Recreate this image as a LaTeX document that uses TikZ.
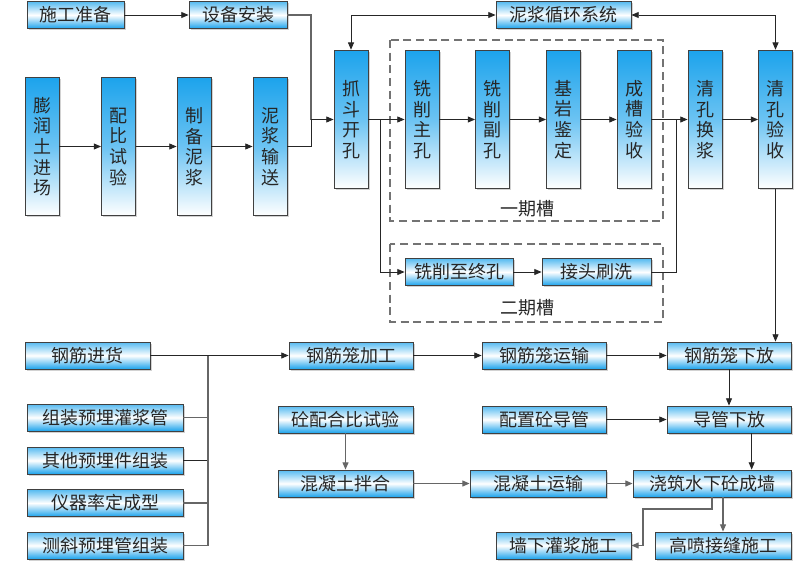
\documentclass[tikz,border=0pt]{standalone}
\usepackage{fontspec}
\newfontfamily\cjk{Noto Sans CJK SC}
\usetikzlibrary{arrows.meta,shadows}
\definecolor{boxblue}{RGB}{28,163,236}
\tikzset{
  hbox/.style={draw=black!75,line width=.6pt,top color=boxblue!75,bottom color=boxblue,middle color=white,
    minimum height=20.25pt,inner sep=0pt,text=black!85,font=\cjk\fontsize{13.5}{16}\selectfont,
    drop shadow={shadow xshift=1.2pt,shadow yshift=-1.2pt,opacity=.35}},
  vbox/.style={hbox,top color=boxblue,bottom color=white,middle color=boxblue!65,
    minimum width=25.5pt,minimum height=104pt,align=center,font=\cjk\fontsize{13.5}{15.5}\selectfont},
  line/.style={black!85,line width=.7pt},
  gline/.style={black!60,line width=.9pt},
  arr/.style={-{Triangle[length=5.5pt,width=4.5pt]}},
  arrtwo/.style={{Triangle[length=5.5pt,width=4.5pt]}-{Triangle[length=5.5pt,width=4.5pt]}},
  stage/.style={black!55,line width=.8pt,dash pattern=on 6pt off 3.5pt},
  stagelabel/.style={text=black!85,font=\cjk\fontsize{13.5}{16}\selectfont}
}
\begin{document}
\begin{tikzpicture}[x=0.75pt,y=-0.75pt]
\useasboundingbox (0,0) rectangle (800,568);
\fill[white] (0,0) rectangle (800,568);
\node[hbox,minimum width=72.75pt] (sgzb) at (75.5,15) {施工准备};
\node[hbox,minimum width=73.5pt] (sbaz) at (238,15) {设备安装};
\node[hbox,minimum width=101.25pt] (njxh) at (563.5,15) {泥浆循环系统};
\node[vbox] (prt) at (42,146.5) {膨\\润\\土\\进\\场};
\node[vbox] (pbsy) at (118.5,146.5) {配\\比\\试\\验};
\node[vbox] (zbnj) at (194,146.5) {制\\备\\泥\\浆};
\node[vbox] (njss) at (270,146.5) {泥\\浆\\输\\送};
\node[vbox] (zdkk) at (351,119.5) {抓\\斗\\开\\孔};
\node[vbox] (xxzk) at (422,119.5) {铣\\削\\主\\孔};
\node[vbox] (xxfk) at (492.5,119.5) {铣\\削\\副\\孔};
\node[vbox] (jyjd) at (563.5,119.5) {基\\岩\\鉴\\定};
\node[vbox] (ccys) at (634,119.5) {成\\槽\\验\\收};
\node[vbox] (qkhj) at (705,119.5) {清\\孔\\换\\浆};
\node[vbox] (qkys) at (775.5,119.5) {清\\孔\\验\\收};
\draw[stage] (390,40) rectangle (663,221);
\node[stagelabel] (yqc) at (527,209) {一期槽};
\draw[stage] (390,244) rectangle (663,322);
\node[stagelabel] (eqc) at (527,308) {二期槽};
\node[hbox,minimum width=81pt] (xxzz) at (459,272) {铣削至终孔};
\node[hbox,minimum width=81.75pt] (jtsx) at (596.5,272) {接头刷洗};
\node[hbox,minimum width=93.75pt] (gjjh) at (87.5,355.5) {钢筋进货};
\node[hbox,minimum width=117pt] (zzgj) at (105,417.5) {组装预埋灌浆管};
\node[hbox,minimum width=117pt] (qtyj) at (105,460.5) {其他预埋件组装};
\node[hbox,minimum width=117pt] (yqld) at (105,503) {仪器率定成型};
\node[hbox,minimum width=117pt] (cxyg) at (105,545.5) {测斜预埋管组装};
\node[hbox,minimum width=93pt] (gjljg) at (351,355.5) {钢筋笼加工};
\node[hbox,minimum width=93pt] (gjlys) at (544,355.5) {钢筋笼运输};
\node[hbox,minimum width=93pt] (gjlxf) at (729,355.5) {钢筋笼下放};
\node[hbox,minimum width=101.25pt] (tphb) at (345.5,419.5) {砼配合比试验};
\node[hbox,minimum width=93pt] (pzdg) at (544,419.5) {配置砼导管};
\node[hbox,minimum width=93pt] (dgxf) at (729,419.5) {导管下放};
\node[hbox,minimum width=101.25pt] (hnbh) at (345.5,483.5) {混凝土拌合};
\node[hbox,minimum width=102pt] (hnys) at (538,483.5) {混凝土运输};
\node[hbox,minimum width=118.5pt] (jzqc) at (712,483.5) {浇筑水下砼成墙};
\node[hbox,minimum width=101.25pt] (qxgj) at (563.5,545.5) {墙下灌浆施工};
\node[hbox,minimum width=102pt] (gpjf) at (723,545.5) {高喷接缝施工};
\coordinate (j1) at (311,119.5);
\coordinate (j2) at (380,119.5);
\coordinate (j3) at (676,119.5);
\coordinate (bus) at (208,355.5);
\coordinate (j4) at (643,509);
\coordinate (d1) at ([xshift=17pt]dgxf.south);
\draw[line,arr] (sgzb) -- (sbaz);
\draw[gline] (sbaz.east) -| (j1);
\draw[line] (njss.east) -| (j1);
\draw[line,arr] (j1) -- (zdkk.west);
\draw[line,arr] (prt) -- (pbsy);
\draw[line,arr] (pbsy) -- (zbnj);
\draw[line,arr] (zbnj) -- (njss);
\draw[line,arrtwo] (zdkk.north) |- (njxh.west);
\draw[line,arrtwo] (njxh.east) -| (qkys.north);
\draw[line,arr] (zdkk) -- (xxzk);
\draw[line,arr] (xxzk) -- (xxfk);
\draw[line,arr] (xxfk) -- (jyjd);
\draw[line,arr] (jyjd) -- (ccys);
\draw[line,arr] (ccys) -- (qkhj);
\draw[line,arr] (qkhj) -- (qkys);
\draw[line,arr] (j2) |- (xxzz.west);
\draw[line,arr] (xxzz) -- (jtsx);
\draw[line] (jtsx.east) -| (j3);
\draw[line,arr] (qkys.south) -- (qkys.south |- gjlxf.north);
\draw[line,arr] (gjjh.east) -- (gjljg.west);
\draw[gline] (zzgj.east) -- (zzgj.east -| bus);
\draw[line] (qtyj.east) -- (qtyj.east -| bus);
\draw[gline] (yqld.east) -- (yqld.east -| bus);
\draw[gline] (cxyg.east) -| (bus);
\draw[line,arr] (gjljg) -- (gjlys);
\draw[line,arr] (gjlys) -- (gjlxf);
\draw[line,arr] (gjlxf) -- (dgxf);
\draw[line,arr] (pzdg) -- (dgxf);
\draw[line,arr] (d1) -- (d1 |- jzqc.north);
\draw[gline,arr] (tphb) -- (hnbh);
\draw[gline,arr] (hnbh) -- (hnys);
\draw[gline,arr] (hnys) -- (jzqc);
\draw[gline,arr] (jzqc.south) |- (j4) |- (qxgj.east);
\draw[gline,arr] (gpjf.north |- jzqc.south) -- (gpjf.north);
\end{tikzpicture}
\end{document}
